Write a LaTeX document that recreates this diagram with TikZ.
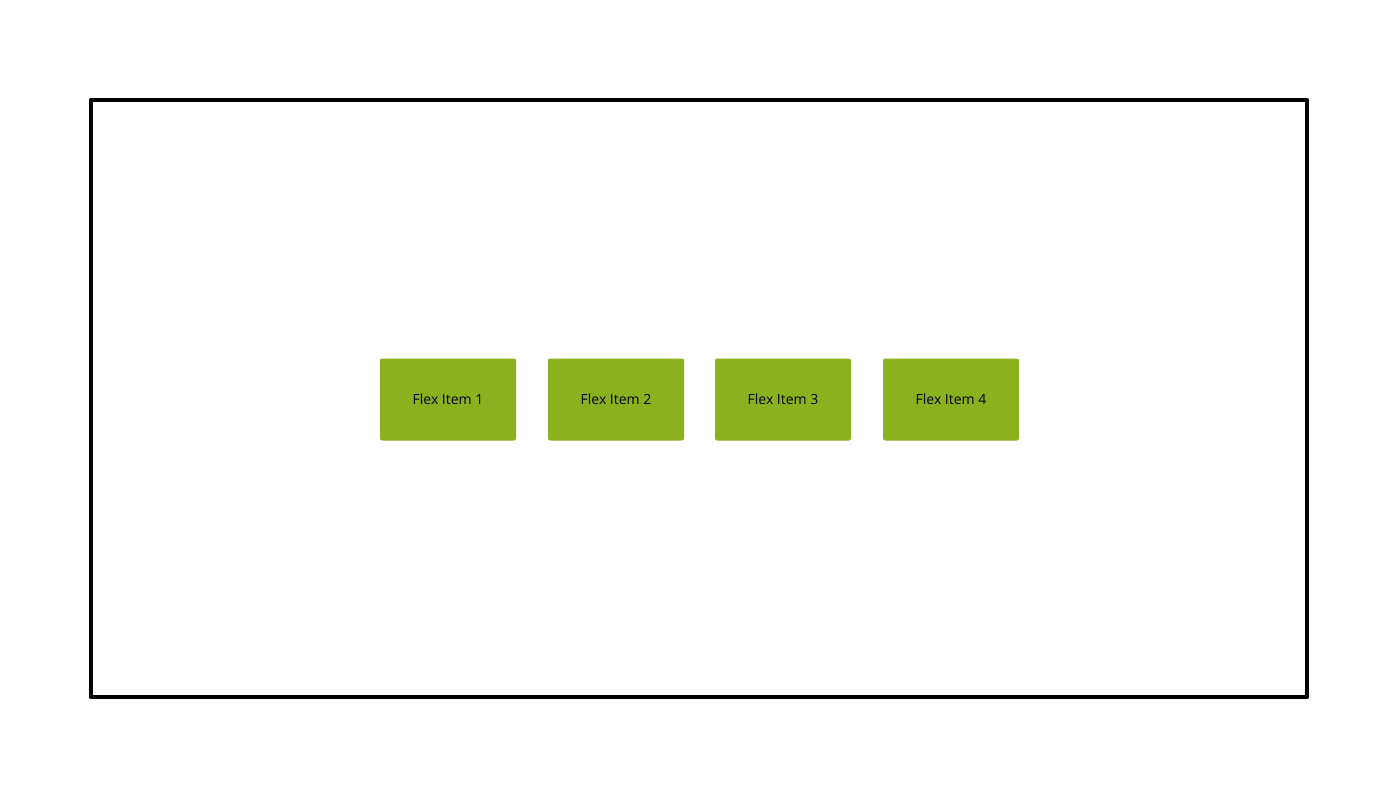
\documentclass[tikz,border=0pt]{standalone}
\usepackage{fontspec}
\setmainfont{Open Sans}
\usepackage{tikz}
\usetikzlibrary{calc}

\definecolor{flexgreen}{HTML}{8CB11E}

\begin{document}
\begin{tikzpicture}[x=1pt, y=-1pt,
  flexitem/.style={fill=flexgreen, rounded corners=2pt, minimum width=136pt,
    minimum height=82pt, inner sep=0pt, font=\fontsize{14}{16}\selectfont}]
\useasboundingbox (0,0) rectangle (1400,800);

% Container
\draw[line width=4.8pt, line join=round] (91,100) rectangle (1307,697);

% Items
\node[flexitem] (item1) at (448,399.5) {Flex Item 1};
\node[flexitem] (item2) at (616,399.5) {Flex Item 2};
\node[flexitem] (item3) at (783,399.5) {Flex Item 3};
\node[flexitem] (item4) at (951,399.5) {Flex Item 4};
\end{tikzpicture}
\end{document}
